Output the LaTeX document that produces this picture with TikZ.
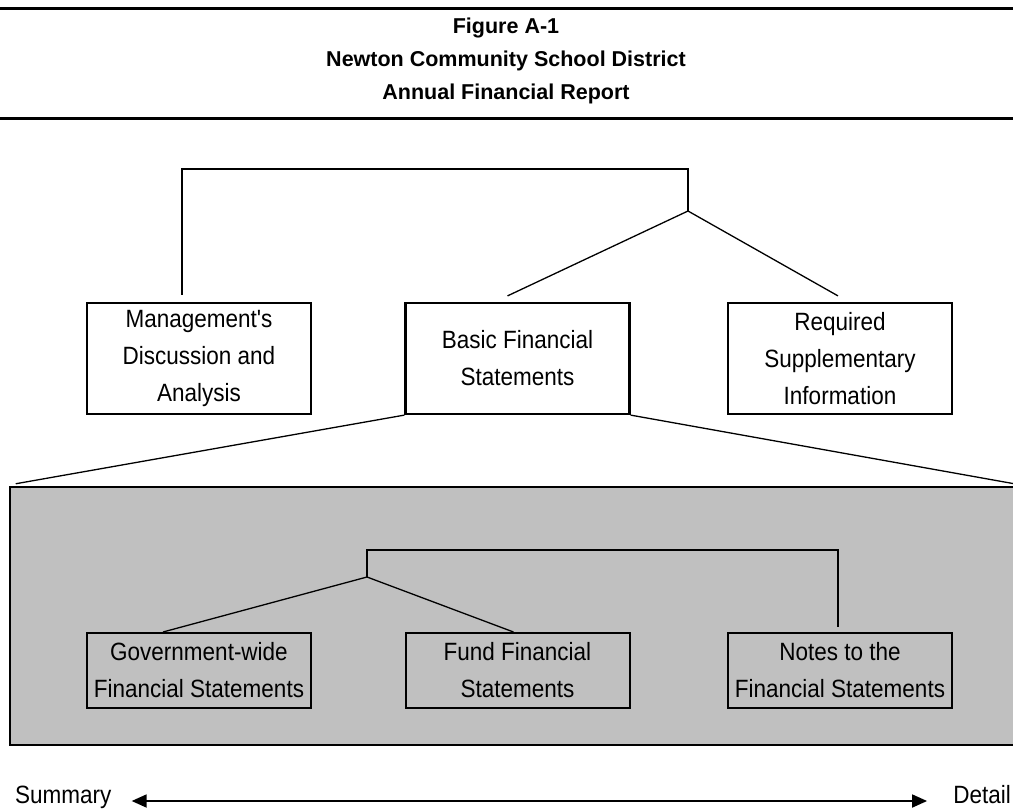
\documentclass[tikz,border=0pt]{standalone}
\usepackage{fontspec}
\setmainfont{Liberation Sans}
\newfontfamily\narrowfont{Liberation Sans}[FakeStretch=0.9]
\usetikzlibrary{arrows.meta,calc}
\definecolor{panelgray}{RGB}{192,192,192}
\begin{document}
\begin{tikzpicture}[
    x=1pt, y=-1pt,
    every node/.style={font=\narrowfont\fontsize{25}{37}\selectfont},
    bigbox/.style={draw, line width=2.2pt, minimum width=224pt, minimum height=111pt, align=center, inner sep=0pt},
    smallbox/.style={draw, line width=2pt, minimum width=224pt, minimum height=75pt, align=center, inner sep=0pt},
    link/.style={line width=1.3pt},
    rule/.style={line width=3pt}
  ]
  \useasboundingbox (0,0) rectangle (1013,811);

  \draw[rule] (0,8) -- (1013,8);
  \draw[rule] (0,118) -- (1013,118);
  \node[align=center, font=\bfseries\fontsize{21.5}{33}\selectfont] (title) at (506,61)
    {Figure A-1\\Newton Community School District\\Annual Financial Report};

  \node[bigbox] (mda) at (199,358.5) {Management's\\Discussion and\\Analysis};
  \node[bigbox] (bfs) at (517.5,358.5) {Basic Financial\\Statements};
  \node[bigbox] (rsi) at (840,358.5) {Required\\Supplementary\\Information};

  \coordinate (top) at (688,169);
  \coordinate (fork) at (688,211);
  \draw[link] ([xshift=-17pt,yshift=7pt]mda.north) |- (top) -- (fork);
  \draw[link] (fork) -- ([xshift=-10pt,yshift=6pt]bfs.north);
  \draw[link] (fork) -- ([xshift=-2pt,yshift=6pt]rsi.north);

  \node[fill=panelgray, draw, line width=2.5pt, minimum width=1008pt, minimum height=258pt, inner sep=0pt] (panel) at (514,616) {};
  \draw[link] (bfs.south west) -- ([xshift=7pt,yshift=2pt]panel.north west);
  \draw[link] (bfs.south east) -- ([xshift=-5pt,yshift=2pt]panel.north east);

  \node[smallbox] (gw) at (199,670.5) {Government-wide\\Financial Statements};
  \node[smallbox] (fund) at (517.5,670.5) {Fund Financial\\Statements};
  \node[smallbox] (notes) at (840,670.5) {Notes to the\\Financial Statements};

  \coordinate (subtop) at (367,550);
  \coordinate (subfork) at (367,577);
  \draw[link] (subfork) -- (subtop) -| ([xshift=-2pt,yshift=5pt]notes.north);
  \draw[link] (subfork) -- ([xshift=-36pt]gw.north);
  \draw[link] (subfork) -- ([xshift=-4pt]fund.north);

  \node[anchor=base west, inner sep=0pt] (summary) at (15,803) {Summary};
  \node[anchor=base east, inner sep=0pt] (detail) at (1011,803) {Detail};
  \draw[line width=1.8pt, {Triangle[length=15pt,width=13pt]}-{Triangle[length=15pt,width=13pt]}]
    ([xshift=20pt,yshift=2pt]summary.base east) -- ([xshift=-26pt,yshift=2pt]detail.base west);
\end{tikzpicture}
\end{document}
